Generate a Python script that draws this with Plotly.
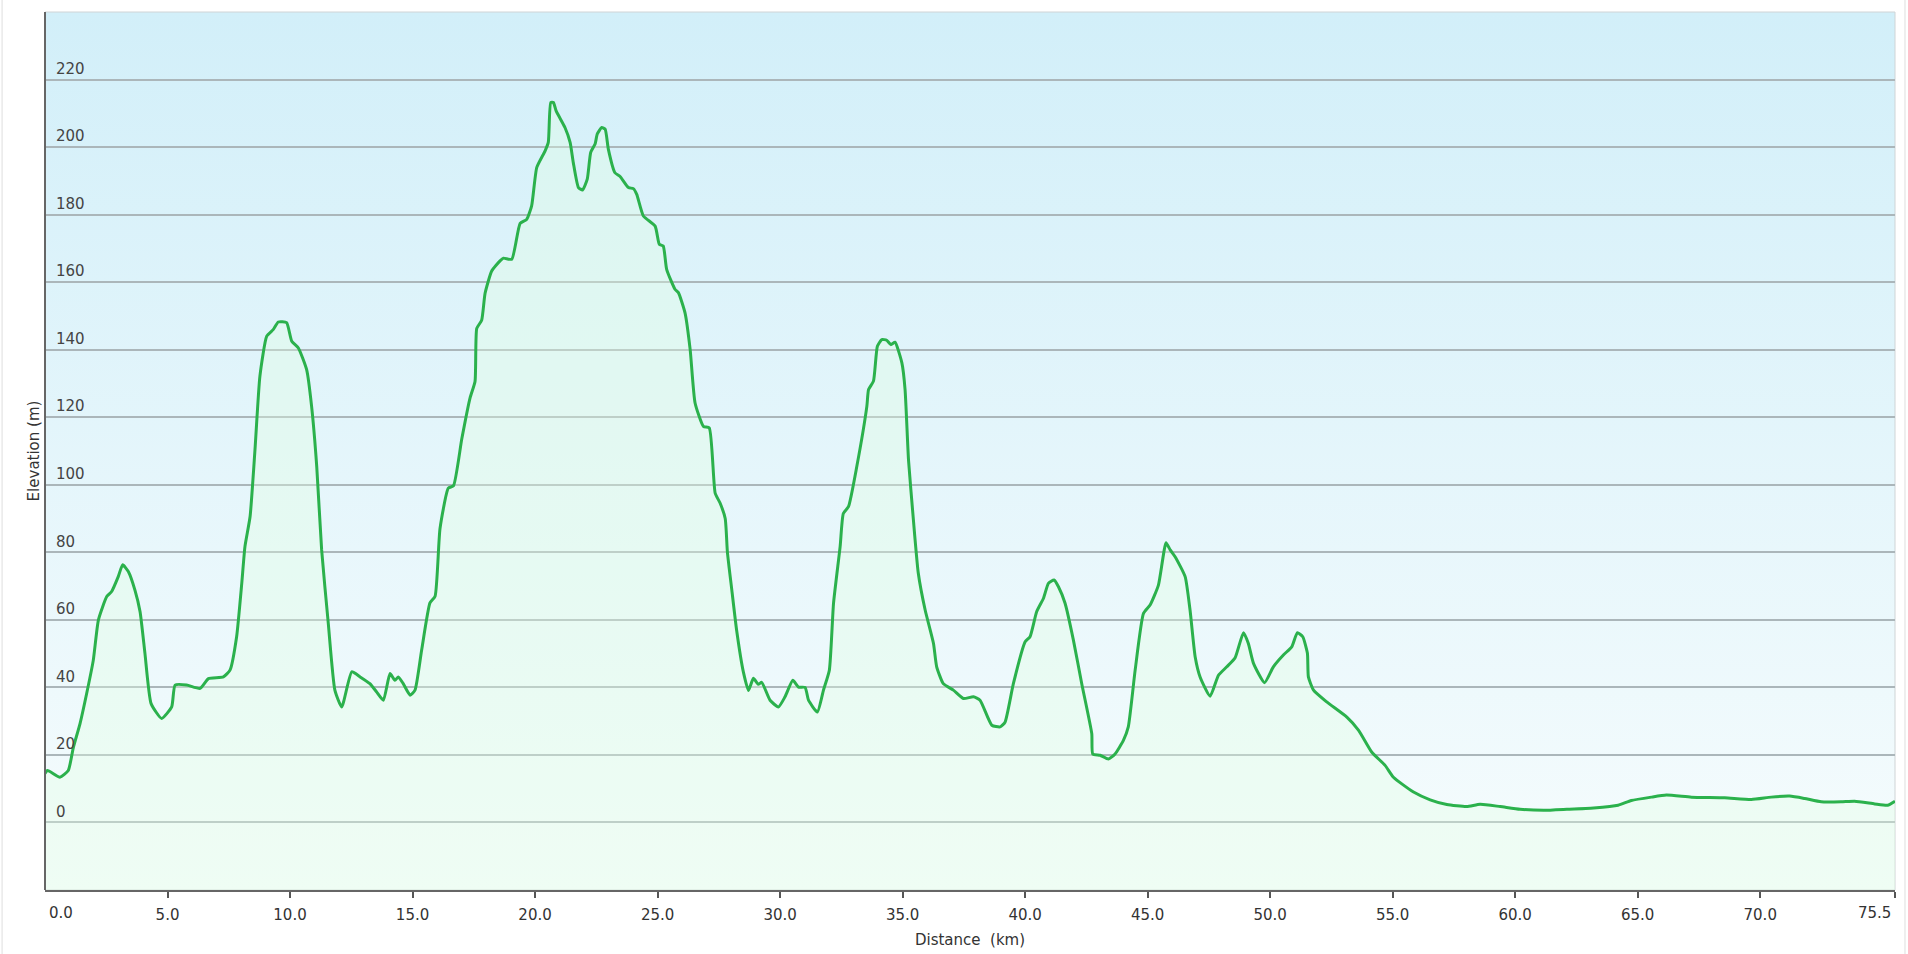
import base64

import plotly.graph_objects as go

# Elevation profile
distance_km = [
    0.0, 0.1, 0.61, 0.95, 1.16, 1.43, 1.70, 1.97, 2.18, 2.52, 2.72, 2.99, 3.17, 3.40,
    3.67, 3.88, 4.08, 4.33, 4.76, 5.17, 5.31, 5.78, 6.33, 6.67, 7.28, 7.55, 7.82,
    8.03, 8.16, 8.37, 8.57, 8.77, 9.05, 9.32, 9.52, 9.86, 10.07, 10.34, 10.68, 10.88,
    11.09, 11.29, 11.56, 11.83, 12.11, 12.52, 12.86, 13.26, 13.54, 13.81, 14.08,
    14.28, 14.42, 14.62, 14.90, 15.10, 15.37, 15.71, 15.92, 16.12, 16.46, 16.67,
    17.01, 17.35, 17.55, 17.62, 17.82, 17.96, 18.23, 18.57, 18.71, 19.05, 19.39,
    19.66, 19.86, 20.07, 20.41, 20.54, 20.64, 20.75, 20.86, 21.22, 21.43, 21.56,
    21.77, 21.94, 22.13, 22.27, 22.45, 22.54, 22.72, 22.86, 22.99, 23.26, 23.47,
    23.81, 24.01, 24.15, 24.42, 24.90, 25.07, 25.23, 25.37, 25.71, 25.85, 26.12,
    26.33, 26.53, 26.87, 27.11, 27.35, 27.55, 27.76, 27.85, 28.03, 28.23, 28.50,
    28.71, 28.91, 29.11, 29.25, 29.59, 29.93, 30.20, 30.52, 30.75, 31.02, 31.16,
    31.52, 31.77, 32.01, 32.18, 32.45, 32.58, 32.79, 33.13, 33.54, 33.61, 33.81,
    33.97, 34.15, 34.35, 34.52, 34.69, 34.97, 35.10, 35.24, 35.44, 35.64, 35.92,
    36.26, 36.39, 36.66, 37.07, 37.48, 37.89, 38.16, 38.64, 38.98, 39.18, 39.52,
    40.00, 40.20, 40.47, 40.75, 40.95, 41.18, 41.36, 41.63, 41.97, 42.31, 42.72,
    42.76, 43.06, 43.40, 43.67, 44.01, 44.21, 44.49, 44.83, 45.10, 45.44, 45.75,
    45.92, 46.12, 46.53, 46.73, 46.94, 47.14, 47.55, 47.89, 48.23, 48.57, 48.91,
    49.11, 49.32, 49.77, 50.13, 50.54, 50.88, 51.11, 51.33, 51.52, 51.56, 51.77,
    52.31, 53.13, 53.61, 54.15, 54.69, 55.03, 55.85, 56.53, 57.21, 58.02, 58.57,
    59.39, 60.20, 61.16, 62.11, 63.20, 64.20, 64.74, 65.56, 66.17, 67.19, 68.55,
    69.64, 70.45, 71.20, 71.81, 72.49, 73.30, 73.85, 74.67, 75.20, 75.50,
]
elevation_m = [
    14.5, 15.4, 13.4, 15.4, 22.3, 29.3, 38.2, 48.0, 60.0, 66.9, 68.4, 72.8, 76.3, 74.3,
    68.8, 62.4, 50.0, 35.2, 30.8, 34.2, 40.7, 40.7, 39.7, 42.6, 43.1, 45.1, 55.0,
    70.8, 81.7, 90.6, 110.4, 132.1, 144.0, 146.0, 148.2, 148.0, 142.5, 140.5, 134.0, 123.2,
    105.4, 80.7, 59.0, 39.2, 34.2, 44.6, 43.1, 41.1, 38.6, 36.2, 44.1,
    42.1, 43.1, 41.1, 37.7, 39.2, 51.0, 65.0, 67.0, 87.0, 99.0, 99.7,
    113.6, 125.8, 130.6, 146.3, 148.7, 156.7, 163.3, 166.3, 167.1, 166.8, 177.4,
    178.6, 182.6, 194.0, 198.9, 201.4, 213.2, 213.2, 210.7, 205.8, 201.4, 195.4,
    188.0, 187.3, 190.5, 198.4, 200.9, 203.9, 205.8, 205.3, 199.4, 192.4, 191.3,
    188.0, 187.7, 186.0, 179.6, 176.6, 171.2, 170.7, 163.8, 157.9, 156.9, 150.9,
    140.0, 124.2, 117.3, 116.8, 97.5, 94.6, 90.0, 80.0, 68.8, 56.7, 44.6,
    39.1, 42.7, 40.9, 41.5, 36.2, 34.2, 37.2, 42.1, 40.1, 40.0, 36.2,
    32.7, 39.2, 45.1, 64.9, 81.7, 91.5, 93.5, 105.4, 123.2, 128.2, 130.7,
    141.0, 143.0, 142.8, 141.5, 142.2, 136.1, 128.2, 107.4, 89.6, 73.8, 62.9,
    53.0, 46.1, 41.1, 39.2, 36.7, 37.2, 36.2, 28.8, 28.3, 29.7, 41.1,
    53.5, 55.0, 62.4, 66.4, 70.8, 71.8, 69.8, 64.9, 54.0, 41.1, 26.3,
    20.3, 19.9, 18.8, 20.3, 24.3, 28.3, 45.1, 61.9, 64.4, 70.3, 82.8,
    80.7, 78.7, 72.8, 62.9, 49.0, 43.1, 37.4, 43.6, 46.1, 48.8, 56.2,
    53.0, 47.1, 41.4, 46.1, 49.6, 52.0, 56.2, 55.0, 50.1, 43.1, 39.2,
    35.7, 31.2, 27.3, 20.8, 16.9, 13.4, 9.0, 6.7, 5.3, 4.7, 5.4,
    4.7, 3.9, 3.6, 3.9, 4.3, 5.1, 6.5, 7.5, 8.1, 7.5, 7.3,
    6.8, 7.5, 7.8, 7.1, 6.1, 6.1, 6.3, 5.5, 5.1, 6.3,
]

# Axis ticks
x_tick_values = [0, 5, 10, 15, 20, 25, 30, 35, 40, 45, 50, 55, 60, 65, 70, 75.5]
x_tick_labels = ["%.1f" % v for v in x_tick_values]
y_tick_values = list(range(0, 221, 20))

X_RANGE = [0, 75.5]
Y_RANGE = [-20, 240]

FONT = "DejaVu Sans"
TEXT_COLOR = "#333333"
NBSP = "\u00a0"


def gradient_background():
    """Vertical sky gradient as an svg data uri"""
    svg = (
        '<svg xmlns="http://www.w3.org/2000/svg" width="10" height="100" '
        'viewBox="0 0 10 100" preserveAspectRatio="none">'
        '<defs><linearGradient id="g" x1="0" y1="0" x2="0" y2="1">'
        '<stop offset="0" stop-color="#d2eff9"/>'
        '<stop offset="1" stop-color="#f6fcfd"/>'
        "</linearGradient></defs>"
        '<rect width="10" height="100" fill="url(#g)"/></svg>'
    )
    return "data:image/svg+xml;base64," + base64.b64encode(svg.encode()).decode()


def end_label(value, text, anchor, shift):
    """Label for the first / last tick, kept inside the plot edge like the reference"""
    return dict(
        x=value,
        xref="x",
        y=0,
        yref="paper",
        yanchor="top",
        xanchor=anchor,
        xshift=shift,
        yshift=-12,
        text=text,
        showarrow=False,
        font=dict(family=FONT, size=15, color=TEXT_COLOR),
    )


def edge_line(x):
    """Faint vertical rule at the sides of the picture"""
    return dict(
        type="line",
        xref="paper",
        yref="paper",
        x0=x,
        x1=x,
        y0=-0.075,
        y1=1.014,
        line=dict(color="#dedede", width=1),
        layer="below",
    )


def make_profile():
    # the two end labels are drawn as annotations instead
    tick_text = list(x_tick_labels)
    tick_text[0] = ""
    tick_text[-1] = ""

    # invisible baseline so the fill reaches the bottom of the plot
    baseline = go.Scatter(
        x=distance_km,
        y=[Y_RANGE[0]] * len(distance_km),
        mode="lines",
        line=dict(width=0),
        hoverinfo="skip",
        showlegend=False,
    )
    profile = go.Scatter(
        x=distance_km,
        y=elevation_m,
        mode="lines",
        line=dict(color="#2bb14c", width=3, shape="spline", smoothing=0.5),
        fill="tonexty",
        fillcolor="rgba(225,255,225,0.35)",
        showlegend=False,
    )

    layout = go.Layout(
        width=1908,
        height=954,
        margin=dict(l=45, r=13, t=12, b=64),
        paper_bgcolor="white",
        plot_bgcolor="rgba(0,0,0,0)",
        font=dict(family=FONT, size=15, color=TEXT_COLOR),
        images=[
            dict(
                source=gradient_background(),
                xref="paper",
                yref="paper",
                x=0,
                y=1,
                sizex=1,
                sizey=1,
                xanchor="left",
                yanchor="top",
                sizing="stretch",
                layer="below",
            )
        ],
        shapes=[
            # light frame round the plot area
            dict(
                type="rect",
                xref="paper",
                yref="paper",
                x0=0,
                x1=1,
                y0=0,
                y1=1,
                line=dict(color="#cfd4d6", width=1),
                layer="below",
            ),
            edge_line(-0.0232),
            edge_line(1.0054),
        ],
        annotations=[
            end_label(x_tick_values[0], x_tick_labels[0], "left", 2),
            end_label(x_tick_values[-1], x_tick_labels[-1], "right", -2),
        ],
        xaxis=dict(
            range=X_RANGE,
            tickmode="array",
            tickvals=x_tick_values,
            ticktext=tick_text,
            ticks="outside",
            ticklen=6,
            tickwidth=2,
            tickcolor="#555555",
            ticklabelstandoff=4,
            automargin=False,
            showgrid=False,
            zeroline=False,
            showline=True,
            linecolor="#666666",
            linewidth=2,
            title=dict(text="Distance" + NBSP + " (km)", font=dict(size=15), standoff=11),
        ),
        yaxis=dict(
            range=Y_RANGE,
            anchor="free",
            position=0,
            tickmode="array",
            tickvals=y_tick_values,
            ticks="",
            ticklabelposition="inside",
            ticklabelstandoff=10,
            ticklabelshift=-11,
            automargin=False,
            showgrid=True,
            gridcolor="#abb6ba",
            gridwidth=1.5,
            zeroline=False,
            showline=True,
            linecolor="#666666",
            linewidth=2,
            title=dict(text="Elevation (m)", font=dict(size=15), standoff=12),
        ),
    )

    fig = go.Figure(data=[baseline, profile], layout=layout)
    # page body margin would push the fixed-size figure off the window
    fig.write_html(
        "out.html",
        config={"displayModeBar": False},
        post_script="document.body.style.margin='0';document.body.style.overflow='hidden';",
    )


if __name__ == "__main__":
    make_profile()
